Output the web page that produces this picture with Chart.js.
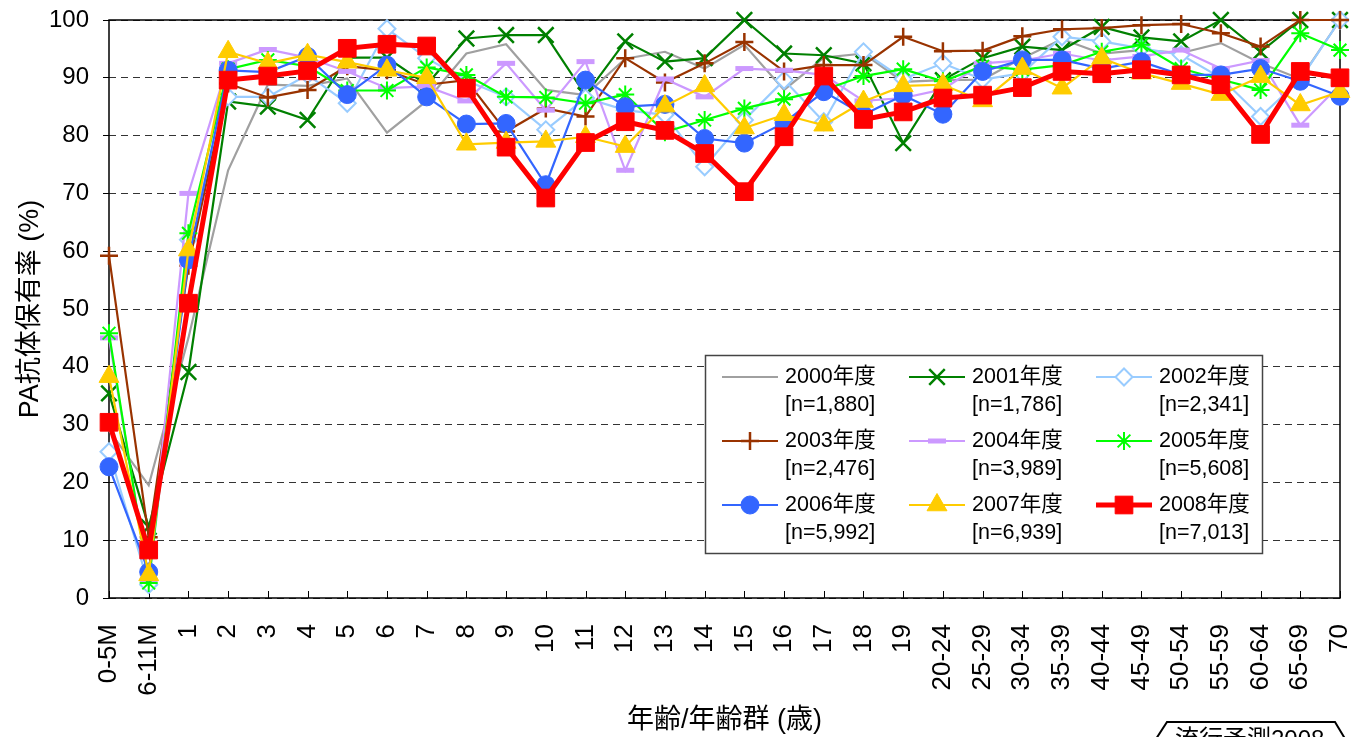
<!DOCTYPE html>
<html lang="ja">
<head>
<meta charset="utf-8">
<title>PA抗体保有率</title>
<script src="https://cdn.jsdelivr.net/npm/chart.js@4.4.1/dist/chart.umd.min.js"></script>
<style>
  html, body { margin: 0; padding: 0; background: #fff; }
  #wrap { position: relative; width: 1354px; height: 737px; overflow: hidden; }
</style>
</head>
<body>
<div id="wrap"><canvas id="chart" width="1354" height="737"></canvas></div>
<script>
// PA antibody prevalence by age group, 2000-2008

const FONT = "'Liberation Sans', Arial, 'Noto Sans CJK JP', sans-serif";

const ageGroups = ['0-5M', '6-11M', '1', '2', '3', '4', '5', '6', '7', '8', '9', '10', '11', '12', '13',
  '14', '15', '16', '17', '18', '19', '20-24', '25-29', '30-34', '35-39', '40-44', '45-49', '50-54',
  '55-59', '60-64', '65-69', '70'];

const yearLabels = ['2000年度', '2001年度', '2002年度', '2003年度', '2004年度', '2005年度', '2006年度', '2007年度', '2008年度'];
const sampleSizes = ['[n=1,880]', '[n=1,786]', '[n=2,341]', '[n=2,476]', '[n=3,989]', '[n=5,608]', '[n=5,992]', '[n=6,939]', '[n=7,013]'];

const yTicks = [0, 10, 20, 30, 40, 50, 60, 70, 80, 90, 100];

const rate2000 = [29, 19.5, 45, 74, 88.8, 88.6, 89.9, 80.5, 86, 94.2, 95.8, 87.9, 87, 93.3, 94.5, 91.6,
  95.7, 87.9, 93.5, 94.2, 89.3, 89.6, 89.7, 93.4, 96.7, 94.2, 94.8, 94.3, 96, 92.5, 89.8, 100];
const rate2001 = [35.4, 12.3, 39.1, 85.9, 85, 82.7, 93.5, 93.5, 88.8, 96.8, 97.4, 97.4, 87, 96.3, 92.8, 93.4,
  100, 94.2, 93.9, 92.5, 78.7, 89.6, 93.4, 95.4, 94.8, 98.8, 97, 96.3, 100, 94.5, 100, 100];
const rate2002 = [25.3, 2.3, 62, 86.7, 86.7, 90.5, 85.6, 98.5, 93.4, 89.5, 86.7, 81, 86.5, 84.4, 83.6, 74.6,
  82.7, 89.6, 82.4, 94.5, 89.8, 92.5, 89.7, 90.8, 97.1, 96.3, 95.1, 94, 90, 83.3, 89.7, 100];
const rate2003 = [59.2, 10.5, 57.5, 89, 86.6, 87.9, 92, 91.3, 88.8, 89.6, 80.7, 84.7, 83.3, 93.4, 89.2, 92.5,
  96.2, 91.1, 92.2, 92.2, 97.1, 94.6, 94.7, 97.2, 98.4, 98.6, 99.1, 99.3, 97.7, 95.4, 100, 100];
const rate2004 = [45, 3.1, 70, 92.5, 94.9, 93.5, 91.1, 88.2, 88.5, 86, 92.5, 84.4, 92.8, 74, 89.8, 86.7,
  91.6, 91.3, 90.5, 86, 86.5, 88, 92.5, 93, 94.2, 93, 93.7, 94.8, 91.6, 93, 81.8, 88.8];
const rate2005 = [45.8, 2.6, 63.1, 91.5, 93.1, 92, 87.8, 87.8, 91.8, 90.5, 86.7, 86.6, 85.6, 87.1, 80.6, 82.7,
  84.7, 86.3, 87.9, 90.3, 91.5, 89.4, 92, 91.4, 92.2, 94.5, 95.7, 91.6, 89.7, 87.9, 97.7, 94.8];
const rate2006 = [22.7, 4.5, 58.5, 91.3, 91, 93.7, 87.1, 92.2, 86.7, 82, 82.1, 71.5, 89.6, 85, 85.4, 79.5,
  78.7, 82.2, 87.6, 83.6, 87, 83.7, 91.1, 93.1, 93.1, 91.6, 92.8, 90.5, 90.5, 91.6, 89.4, 86.8];
const rate2007 = [38.3, 4, 60.2, 94.5, 92.5, 94, 92.7, 91.3, 90, 78.5, 78.8, 79, 79.8, 78.1, 85.1, 88.6,
  81.3, 83.6, 81.8, 85.9, 88.6, 88.8, 86, 91.6, 88.2, 93.4, 90.8, 89, 87.1, 90.2, 85.3, 87.6];
const rate2008 = [30.4, 8.3, 51, 89.6, 90.3, 91.2, 95.1, 95.8, 95.5, 88.2, 78, 69.2, 78.8, 82.4, 80.9, 76.9,
  70.3, 79.8, 90.3, 82.8, 84.1, 86.5, 87, 88.3, 91.1, 90.7, 91.4, 90.5, 88.8, 80.2, 91.1, 90];

const seriesValues = [rate2000, rate2001, rate2002, rate2003, rate2004, rate2005, rate2006, rate2007, rate2008];

// line colour, line width, marker style / size / fill / border
const seriesStyles = [
  { color: '#A0A0A0', width: 2.2, marker: 'circle', radius: 0, fill: '#A0A0A0', mw: 0 },
  { color: '#008000', width: 2.2, marker: 'crossRot', radius: 11, fill: '#008000', mw: 2.5 },
  { color: '#99CCFF', width: 2.2, marker: 'rectRot', radius: 8.5, fill: '#FFFFFF', mw: 2 },
  { color: '#993300', width: 2.2, marker: 'cross', radius: 9, fill: '#993300', mw: 2.5 },
  { color: '#CC99FF', width: 2.2, marker: 'line', radius: 9, fill: '#CC99FF', mw: 5 },
  { color: '#00FF00', width: 2.2, marker: 'star', radius: 9, fill: '#00FF00', mw: 2 },
  { color: '#3366FF', width: 2.2, marker: 'circle', radius: 9, fill: '#3366FF', mw: 1 },
  { color: '#FFCC00', width: 2.2, marker: 'triangle', radius: 11.5, fill: '#FFCC00', mw: 1 },
  { color: '#FF0000', width: 5, marker: 'rect', radius: 12.5, fill: '#FF0000', mw: 1 }
];

const datasets = seriesValues.map((values, i) => {
  const s = seriesStyles[i];
  return {
    label: yearLabels[i],
    data: values,
    borderColor: s.color,
    borderWidth: s.width,
    pointStyle: s.marker,
    pointRadius: s.radius,
    pointHoverRadius: s.radius,
    pointBackgroundColor: s.fill,
    pointBorderColor: s.color,
    pointBorderWidth: s.mw,
    tension: 0,
    clip: false,
    order: seriesValues.length - 1 - i // later years drawn on top
  };
});

// frame, inner x tick marks, custom two-line legend, corner tag
const decorations = {
  id: 'decorations',
  beforeDatasetsDraw(chart) {
    const { ctx, chartArea: a, scales } = chart;
    ctx.save();
    ctx.strokeStyle = '#000';
    ctx.lineWidth = 1.5;
    ctx.strokeRect(a.left, a.top, a.right - a.left, a.bottom - a.top);
    ctx.lineWidth = 1;
    ctx.beginPath();
    ageGroups.forEach((g, i) => {
      const x = Math.round(scales.x.getPixelForValue(i)) + 0.5;
      ctx.moveTo(x, a.bottom);
      ctx.lineTo(x, a.bottom - 7);
    });
    ctx.stroke();
    ctx.restore();
  },
  afterDraw(chart) {
    const { ctx } = chart;
    ctx.save();
    // legend box
    ctx.fillStyle = '#fff';
    ctx.fillRect(705, 355, 557, 198);
    ctx.strokeStyle = '#444';
    ctx.lineWidth = 1.5;
    ctx.strokeRect(705.5, 355.5, 557, 198);

    chart.data.datasets.forEach((ds, i) => {
      const col = i % 3, row = Math.floor(i / 3);
      const x1 = 722 + col * 187, x2 = x1 + 56;
      const y = 377 + row * 64;
      ctx.strokeStyle = ds.borderColor;
      ctx.lineWidth = ds.borderWidth;
      ctx.beginPath();
      ctx.moveTo(x1, y);
      ctx.lineTo(x2, y);
      ctx.stroke();
      if (ds.pointRadius > 0 && Chart.helpers && Chart.helpers.drawPoint) {
        ctx.fillStyle = ds.pointBackgroundColor;
        ctx.strokeStyle = ds.pointBorderColor;
        ctx.lineWidth = ds.pointBorderWidth;
        Chart.helpers.drawPoint(ctx, {
          pointStyle: ds.pointStyle, radius: ds.pointRadius,
          borderWidth: ds.pointBorderWidth, rotation: 0
        }, (x1 + x2) / 2, y);
      }
      ctx.fillStyle = '#000';
      ctx.font = '21.5px ' + FONT;
      ctx.textBaseline = 'middle';
      ctx.textAlign = 'left';
      ctx.fillText(yearLabels[i], x2 + 7, y);
      ctx.fillText(sampleSizes[i], x2 + 7, y + 28);
    });

    // corner tag, cut off by the bottom edge
    ctx.strokeStyle = '#000';
    ctx.lineWidth = 2;
    ctx.beginPath();
    ctx.moveTo(1154, 742);
    ctx.lineTo(1167, 722);
    ctx.lineTo(1335, 722);
    ctx.lineTo(1347, 742);
    ctx.stroke();
    ctx.fillStyle = '#000';
    ctx.font = '24px ' + FONT;
    ctx.textBaseline = 'top';
    ctx.fillText('流行予測2008', 1175, 728);
    ctx.restore();
  }
};

Chart.defaults.font.family = FONT;
Chart.defaults.color = '#000';

new Chart(document.getElementById('chart'), {
  type: 'line',
  data: { labels: ageGroups, datasets: datasets },
  options: {
    responsive: false,
    animation: false,
    devicePixelRatio: 1,
    layout: { padding: { top: 20, right: 12, bottom: 0, left: 0 } },
    plugins: {
      legend: { display: false },
      tooltip: { enabled: false }
    },
    scales: {
      x: {
        type: 'category',
        offset: false,
        grid: { display: false },
        border: { display: false },
        ticks: {
          autoSkip: false,
          maxRotation: 90,
          minRotation: 90,
          padding: 18,
          font: { size: 26 }
        },
        title: {
          display: true,
          text: '年齢/年齢群 (歳)',
          font: { size: 27 },
          padding: { top: 0, bottom: 0 }
        },
        afterFit(scale) {
          scale.height = 139;
          scale.paddingLeft = 0;
          scale.paddingRight = 0;
        }
      },
      y: {
        min: 0,
        max: 100,
        afterBuildTicks(scale) {
          scale.ticks = yTicks.map(v => ({ value: v }));
        },
        grid: {
          color: '#333',
          lineWidth: 1,
          drawTicks: true,
          tickLength: 6,
          tickColor: '#000'
        },
        border: { display: false, dash: [7, 5] },
        ticks: {
          padding: 14,
          font: { size: 24 }
        },
        title: {
          display: true,
          text: 'PA抗体保有率 (%)',
          font: { size: 27 },
          padding: { top: 14, bottom: 0 }
        },
        afterFit(scale) {
          scale.width = 109;
          scale.paddingTop = 0;
          scale.paddingBottom = 0;
        }
      }
    }
  },
  plugins: [decorations]
});
</script>
</body>
</html>
